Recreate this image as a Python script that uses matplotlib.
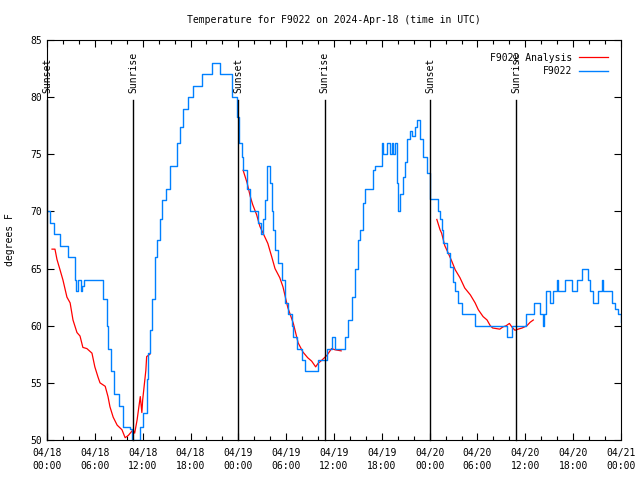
import numpy as np
import matplotlib
matplotlib.use("Agg")
import matplotlib.pyplot as plt
import matplotlib.transforms as mtransforms
from matplotlib.ticker import MultipleLocator, FixedLocator

# hours since 2024-04-18 00:00 UTC
obs_hours = [0.0, 0.4, 0.9, 1.6, 2.6, 3.5, 3.7, 3.9, 4.3, 4.4, 4.6, 6.6, 7.0, 7.5, 7.6, 8.0,
             8.4, 9.0, 9.5, 10.4, 10.7, 11.3, 11.7, 12.0, 12.5, 12.7, 12.9, 13.2, 13.5, 13.8,
             14.2, 14.4, 14.9, 15.4, 16.3, 16.7, 17.1, 17.7, 18.3, 19.4, 20.7, 21.7, 23.2,
             23.8, 24.1, 24.5, 24.6, 25.1, 25.5, 26.5, 26.8, 27.1, 27.3, 27.6, 28.0, 28.2,
             28.3, 28.6, 29.0, 29.5, 29.9, 30.2, 30.7, 30.9, 31.4, 32.0, 32.4, 34.0, 35.1,
             35.7, 36.1, 37.4, 37.8, 38.3, 38.6, 39.0, 39.3, 39.6, 39.9, 40.9, 41.1, 42.0,
             42.1, 42.6, 43.0, 43.3, 43.4, 43.7, 43.9, 44.0, 44.3, 44.7, 44.9, 45.2, 45.5,
             45.8, 46.2, 46.4, 46.8, 47.2, 47.7, 48.0, 48.8, 49.05, 49.3, 49.55, 49.7, 50.2,
             50.55, 50.9, 51.2, 51.55, 52.05, 53.7, 57.7, 58.3, 60.1, 61.1, 61.8, 62.2, 62.3,
             62.6, 63.1, 63.5, 64.0, 64.1, 65.0, 65.9, 66.5, 67.1, 67.9, 68.1, 68.5, 69.1,
             69.6, 69.7, 70.9, 71.2, 71.6, 72.0]
obs_temp = [70, 69, 68, 67, 66, 64, 63, 64, 63, 63.5, 64, 64, 62.3, 60, 58, 56,
            54, 53, 51.1, 51, 50, 50, 51.1, 52.4, 55.3, 57.6, 59.6, 62.3, 66, 67.5,
            69.3, 71, 72, 74, 76, 77.4, 79, 80, 81, 82, 83, 82, 80,
            78.3, 76, 74.8, 73.6, 72, 70, 69, 68, 69.3, 71, 74, 72.5, 70,
            68.4, 66.6, 65.5, 64, 62, 61, 60, 59, 58, 57, 56, 57, 58,
            59, 58, 59, 60.5, 62.5, 65, 67.5, 68.4, 70.7, 72, 73.6, 74, 76,
            75, 76, 75, 76, 75, 76, 72.5, 70, 71.5, 73, 74.3, 76.3, 77,
            76.6, 77.4, 78, 76.3, 74.8, 73.4, 71.1, 71.1, 70, 69.3, 68.4, 67.2, 66.4,
            65.1, 63.8, 63, 62, 61, 60, 59, 60, 61, 62, 61, 60, 61,
            63, 62, 63, 64, 63, 64, 63, 64, 65, 64, 63, 62, 63,
            64, 63, 62, 61.5, 61, 60.3]

ana_hours_1 = [0.63, 1.0, 1.25, 1.63, 2.0, 2.5, 2.9, 3.26, 3.76, 4.14, 4.5, 5.0, 5.64, 6.0,
               6.4, 6.65, 7.3, 7.65, 7.9, 8.3, 8.8, 9.4, 9.8, 10.2, 10.8, 11.0, 11.3, 11.7,
               11.9, 12.0, 12.4, 12.5, 12.9]
ana_temp_1 = [66.7, 66.7, 65.8, 64.9, 64, 62.5, 62, 60.5, 59.4, 59.1, 58.1, 58, 57.6, 56.4,
              55.5, 55, 54.7, 53.8, 52.9, 52, 51.3, 50.9, 50.2, 50.4, 50.9, 50.6, 51.75, 53.8,
              52.4, 53.5, 56.1, 57.3, 57.5]
ana_hours_2 = [24.6, 25.1, 25.5, 25.8, 26.3, 26.7, 27.1, 27.7, 28.2, 28.6, 29.2, 29.6, 30.2,
               30.9, 31.5, 32.1, 32.7, 33.2, 33.7, 34.0, 34.5, 35.1, 35.7, 36.1, 36.9]
ana_temp_2 = [73.6, 72.5, 71.3, 70.6, 69.7, 68.7, 68.1, 67.2, 66, 65, 64.2, 63.4, 61.6,
              60.2, 58.5, 57.7, 57.2, 56.9, 56.4, 56.7, 57, 57.4, 58, 57.9, 57.8]
ana_hours_3 = [48.9, 49.3, 49.5, 49.9, 50.3, 50.8, 51.2, 51.8, 52.4, 53.1, 53.7, 54.1, 54.7,
               55.2, 55.6, 55.9, 56.8, 57.2, 57.6, 58.0, 58.3, 58.7, 59.1, 59.6, 60.2, 60.6, 61.0]
ana_temp_3 = [69.3, 68.4, 68.1, 67, 66.4, 65.6, 64.9, 64.2, 63.3, 62.7, 62, 61.4, 60.8,
              60.5, 60, 59.8, 59.7, 59.9, 60, 60.2, 59.9, 59.6, 59.7, 59.8, 60, 60.3, 60.5]

sun_events = [("Sunset", 0.0), ("Sunrise", 10.8), ("Sunset", 23.95),
              ("Sunrise", 34.85), ("Sunset", 48.05), ("Sunrise", 58.85)]

tick_hours = [0, 6, 12, 18, 24, 30, 36, 42, 48, 54, 60, 66, 72]
tick_labels = ["04/18\n00:00", "04/18\n06:00", "04/18\n12:00", "04/18\n18:00",
               "04/19\n00:00", "04/19\n06:00", "04/19\n12:00", "04/19\n18:00",
               "04/20\n00:00", "04/20\n06:00", "04/20\n12:00", "04/20\n18:00",
               "04/21\n00:00"]

plt.rcParams['font.family'] = ['DejaVu Sans Mono']
plt.rcParams['font.size'] = 7

fig = plt.figure(figsize=(6.4, 4.8), dpi=100)
ax = fig.add_axes([47 / 640, 40 / 480, 574 / 640, 400 / 480])

red = '#ff0000'
blue = '#0080ff'

ax.plot(ana_hours_1, ana_temp_1, color=red, lw=0.9, label='F9022 Analysis')
ax.plot(ana_hours_2, ana_temp_2, color=red, lw=0.9)
ax.plot(ana_hours_3, ana_temp_3, color=red, lw=0.9)
ax.plot(obs_hours, obs_temp, color=blue, lw=1.0, drawstyle='steps-post', label='F9022')

trans = mtransforms.blended_transform_factory(ax.transData, ax.transAxes)
for name, h in sun_events:
    ax.plot([h, h], [0, 0.85], color='black', lw=1.0, transform=trans, clip_on=False)
    ax.text(h, 0.868, name, rotation=90, ha='center', va='bottom', transform=trans,
            fontsize=7)

ax.set_xlim(0, 72)
ax.set_ylim(50, 85)
ax.xaxis.set_major_locator(FixedLocator(tick_hours))
ax.set_xticklabels(tick_labels, linespacing=1.35)
ax.xaxis.set_minor_locator(MultipleLocator(2))
ax.yaxis.set_major_locator(MultipleLocator(5))
ax.tick_params(which='both', direction='in', top=True, right=True, labelsize=7)
ax.tick_params(which='major', length=5, width=0.8)
ax.tick_params(which='minor', length=3, width=0.8)
ax.tick_params(axis='x', pad=6)
for s in ax.spines.values():
    s.set_linewidth(0.8)

ax.set_title('Temperature for F9022 on 2024-Apr-18 (time in UTC)', fontsize=7, pad=12)
ax.set_ylabel('degrees F', fontsize=7, labelpad=11)

ax.legend(loc='upper right', frameon=False, markerfirst=False, handlelength=3.0,
          labelspacing=0.35, borderaxespad=0.9, handletextpad=0.7, fontsize=7)

fig.savefig('out.png', dpi=100)
